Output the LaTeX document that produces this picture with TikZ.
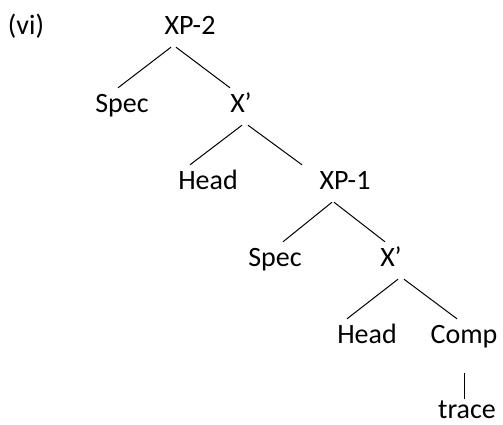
\documentclass[tikz,border=0pt]{standalone}
\usepackage{fontspec}
\setmainfont{Carlito}
\usetikzlibrary{positioning}

\begin{document}
\begin{tikzpicture}[x=1pt,y=-1pt,every node/.style={font=\fontsize{28}{32}\selectfont,anchor=base,text height=17pt,text depth=6pt,inner xsep=2pt,inner ysep=7pt},branch/.style={line width=1pt}]
\useasboundingbox (0,0) rectangle (503,424);
\node (lbl) at (26,34) {(vi)};
% upper phrase
\node (xp2) at (190,34) {XP-2};
\node (spec1) at (122,112) {Spec};
\node (xb1) at (241,112) {X’};
\node (head1) at (208,189) {Head};
\node (xp1) at (345,189) {XP-1};
% lower phrase
\node (spec2) at (275,266) {Spec};
\node (xb2) at (391,266) {X’};
\node (head2) at (367,343) {Head};
\node (comp) at (464,343) {Comp};
\node (trace) at (467,418) {trace};
\foreach \a/\da/\b/\db in {xp2/-19/spec1/-4,xp2/-14/xb1/-11,xb1/1/head1/-18,xb1/7/xp1/-43,
  xp1/-13/spec2/8,xp1/-11/xb2/-6,xb2/7/head2/-20,xb2/13/comp/-7}
  \draw[branch] ([xshift=\da]\a.south) -- ([xshift=\db]\b.north);
\draw[branch] ([yshift=-17pt]comp.south) -- ([xshift=-3pt,yshift=-5pt]trace.north);
\end{tikzpicture}
\end{document}
